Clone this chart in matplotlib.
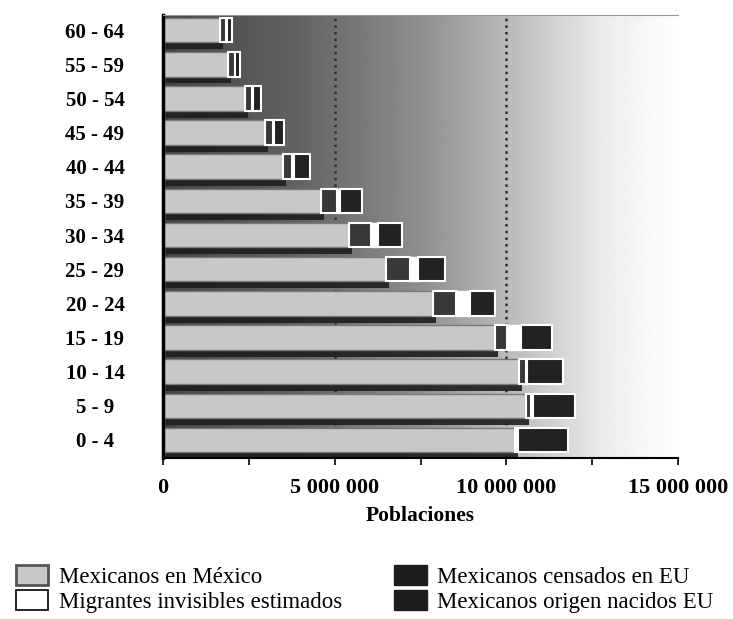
import numpy as np
import matplotlib
matplotlib.use('Agg')
import matplotlib.pyplot as plt
import matplotlib.patheffects as pe
from matplotlib.ticker import FuncFormatter, MultipleLocator
from matplotlib.patches import Patch

plt.rcParams['font.family'] = ['Liberation Serif', 'DejaVu Serif']

# datos (millones de personas), de abajo hacia arriba
grupos = ['0 - 4', '5 - 9', '10 - 14', '15 - 19', '20 - 24', '25 - 29', '30 - 34',
          '35 - 39', '40 - 44', '45 - 49', '50 - 54', '55 - 59', '60 - 64']
mexico = np.array([10.26, 10.58, 10.37, 9.67, 7.87, 6.50, 5.42, 4.60, 3.50, 2.97, 2.39, 1.89, 1.66]) * 1e6
censados = np.array([0.05, 0.15, 0.20, 0.35, 0.67, 0.70, 0.64, 0.47, 0.26, 0.23, 0.20, 0.20, 0.18]) * 1e6
invisibles = np.array([0.02, 0.06, 0.03, 0.41, 0.41, 0.23, 0.20, 0.09, 0.06, 0.03, 0.03, 0.02, 0.02]) * 1e6
nacidos = np.array([1.46, 1.22, 1.05, 0.90, 0.73, 0.79, 0.70, 0.64, 0.47, 0.29, 0.23, 0.13, 0.15]) * 1e6

etiquetas = ['Mexicanos en México', 'Migrantes invisibles estimados',
             'Mexicanos censados en EU', 'Mexicanos origen nacidos EU']

fig = plt.figure(figsize=(7.33, 6.19), dpi=100)
ax = fig.add_axes([0.2224, 0.26, 0.7026, 0.7157])

xmax = 15e6
y = np.arange(len(grupos))
ax.set_xlim(0, xmax)
ax.set_ylim(-0.53, 12.44)

# fondo degradado
grad = np.interp(np.linspace(0, 1, 300), [0, 0.25, 0.5, 0.7, 0.85, 1.0],
                 [0.27, 0.38, 0.56, 0.76, 0.92, 1.0]).reshape(1, -1)
ax.imshow(grad, cmap='gray', vmin=0, vmax=1, aspect='auto',
          extent=(0, xmax, -0.53, 12.44), zorder=0)

for v in [5e6, 10e6]:
    ax.axvline(v, color='#2e2e2e', linestyle=':', lw=1.8, zorder=1)

h = 0.72
sombra = [pe.SimplePatchShadow(offset=(2, -5), shadow_rgbFace='#1e1e1e', alpha=0.9), pe.Normal()]
b1 = ax.barh(y, mexico, h, color='#c8c8c8', edgecolor='#7a7a7a', linewidth=1.0, zorder=2)
for b in b1:
    b.set_path_effects(sombra)
ax.barh(y, censados, h, left=mexico, color='#383838', edgecolor='white', linewidth=1.5, zorder=3)
ax.barh(y, invisibles, h, left=mexico + censados, color='white', edgecolor='white', linewidth=1.0, zorder=3)
ax.barh(y, nacidos, h, left=mexico + censados + invisibles, color='#222222',
        edgecolor='white', linewidth=1.5, zorder=3)

ax.set_yticks(y)
ax.set_yticklabels(grupos, fontsize=15, fontweight='bold', ha='center')
ax.tick_params(axis='y', length=0, pad=49)

ax.xaxis.set_major_locator(MultipleLocator(5e6))
ax.xaxis.set_minor_locator(MultipleLocator(2.5e6))
ax.xaxis.set_major_formatter(FuncFormatter(lambda v, p: f'{int(v):,}'.replace(',', ' ')))
ax.tick_params(axis='x', which='both', length=5, width=1.2, direction='out')
ax.tick_params(axis='x', labelsize=16, pad=9)
for t in ax.get_xticklabels():
    t.set_fontweight('bold')
ax.set_xlabel('Poblaciones', fontsize=15.5, fontweight='bold', labelpad=6)

ax.spines['left'].set_linewidth(2.5)
ax.spines['bottom'].set_linewidth(1.5)
ax.spines['top'].set_color('#999999')
ax.spines['top'].set_linewidth(0.8)
ax.spines['right'].set_visible(False)

handles = [Patch(facecolor='#c8c8c8', edgecolor='#555555', linewidth=2),
           Patch(facecolor='white', edgecolor='black', linewidth=1.2),
           Patch(facecolor='#1e1e1e', edgecolor='#1e1e1e'),
           Patch(facecolor='#1e1e1e', edgecolor='#1e1e1e')]
fig.legend(handles, etiquetas, loc='upper left', bbox_to_anchor=(0.022, 0.088),
           ncol=2, frameon=False, fontsize=16.5, handlelength=1.4, handleheight=1.0,
           handletextpad=0.45, labelspacing=0.1, columnspacing=2.3,
           borderpad=0, borderaxespad=0)

plt.savefig('out.png', dpi=100)
